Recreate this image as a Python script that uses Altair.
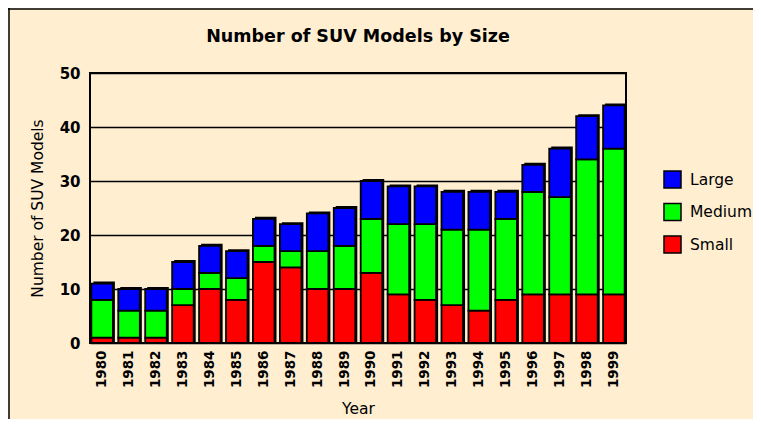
import altair as alt
import pandas as pd

years = [str(y) for y in range(1980, 2000)]
small = [1, 1, 1, 7, 10, 8, 15, 14, 10, 10, 13, 9, 8, 7, 6, 8, 9, 9, 9, 9]
medium = [7, 5, 5, 3, 3, 4, 3, 3, 7, 8, 10, 13, 14, 14, 15, 15, 19, 18, 25, 27]
large = [3, 4, 4, 5, 5, 5, 5, 5, 7, 7, 7, 7, 7, 7, 7, 5, 5, 9, 8, 8]

sizes = ["Large", "Medium", "Small"]
colors = ["#0000FF", "#00FF00", "#FF0000"]
stack_order = {"Small": 0, "Medium": 1, "Large": 2}

rows = []
for i, y in enumerate(years):
    for name, vals in (("Small", small), ("Medium", medium), ("Large", large)):
        rows.append({"Year": y, "Size": name, "Count": vals[i], "ord": stack_order[name]})
df = pd.DataFrame(rows)

BG = "#FFEED0"
FONT = "DejaVu Sans"

xenc = alt.X("Year:O", title="Year",
             scale=alt.Scale(paddingInner=0.2, paddingOuter=0.05),
             axis=alt.Axis(labelAngle=270, labelFont=FONT, labelFontWeight="bold",
                           labelFontSize=13.5, labelColor="black", labelPadding=7,
                           ticks=False, domain=False, grid=False,
                           titleFont=FONT, titleFontSize=15.5, titleFontWeight="normal",
                           titleColor="black", titlePadding=14))

yscale = alt.Scale(domain=[0, 50], nice=False)

shadow = alt.Chart(df).mark_bar(color="black", xOffset=2, yOffset=-2).encode(
    x=xenc,
    y=alt.Y("sum(Count):Q", scale=yscale,
            title="Number of SUV Models",
            axis=alt.Axis(values=[0, 10, 20, 30, 40, 50], grid=True, gridColor="black",
                          gridWidth=1.5, gridOpacity=1, ticks=False, domain=False,
                          labelFont=FONT, labelFontWeight="bold", labelFontSize=15,
                          labelColor="black", labelPadding=10,
                          titleFont=FONT, titleFontSize=15.5, titleFontWeight="normal",
                          titleColor="black", titlePadding=14)),
)

bars = alt.Chart(df).mark_bar(stroke="black", strokeWidth=1.8).encode(
    x=xenc,
    y=alt.Y("Count:Q", scale=yscale, stack="zero"),
    color=alt.Color("Size:N",
                    scale=alt.Scale(domain=sizes, range=colors),
                    legend=alt.Legend(title=None, orient="none", legendX=573, legendY=97,
                                      symbolType="square", symbolSize=289,
                                      symbolStrokeColor="black", symbolStrokeWidth=1.5,
                                      labelFont=FONT, labelFontSize=15.5, labelColor="black",
                                      labelOffset=8, rowPadding=9.5, padding=0)),
    order=alt.Order("ord:Q", sort="ascending"),
)

# outer chart frame (left and top edges of the figure border)
frame_df = pd.DataFrame({"k": [0]})
frame_left = alt.Chart(frame_df).mark_rule(color="black", strokeWidth=1.5).encode(
    x=alt.value(-81), y=alt.value(-65), y2=alt.value(346))
frame_top = alt.Chart(frame_df).mark_rule(color="black", strokeWidth=1.5).encode(
    x=alt.value(-82), x2=alt.value(663), y=alt.value(-64))

chart = alt.layer(shadow, bars, frame_left, frame_top).properties(
    width=536, height=270,
    title=alt.TitleParams("Number of SUV Models by Size", font=FONT, fontSize=17.5,
                          fontWeight="bold", color="black", anchor="middle", offset=-38),
    autosize=alt.AutoSizeParams(type="none"),
    padding={"left": 82, "top": 65, "right": 127, "bottom": 76},
    background=BG,
).configure_view(stroke="black", strokeWidth=2, fill=BG)

chart.save("out.html", embed_options={"renderer": "svg", "actions": False})
